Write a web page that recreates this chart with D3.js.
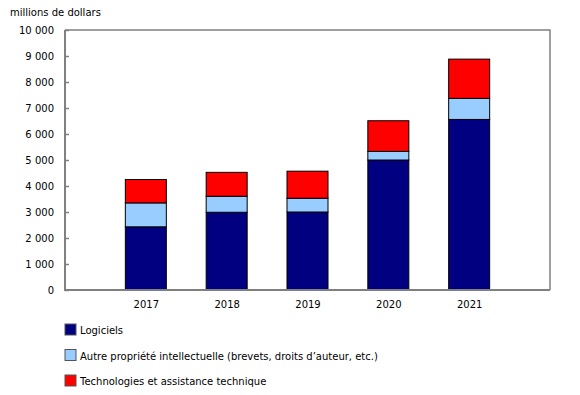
<!DOCTYPE html>
<html>
<head>
<meta charset="utf-8">
<script src="https://cdn.jsdelivr.net/npm/d3@7"></script>
<style>
  body { margin: 0; background: #fff; }
  text { font-family: Verdana, "DejaVu Sans", sans-serif; fill: #000; }
</style>
</head>
<body>
<div id="chart"></div>
<script>
// data (millions de dollars)
var years = ["2017", "2018", "2019", "2020", "2021"]
var logiciels = [2430, 2990, 3000, 5000, 6560]
var autrePI = [920, 615, 530, 330, 810]
var technos = [900, 920, 1040, 1180, 1510]
var seriesNames = ["Logiciels", "Autre propriété intellectuelle (brevets, droits d\u2019auteur, etc.)", "Technologies et assistance technique"]
var colors = ["#000080", "#99ccff", "#ff0000"]
var yTicks = [0, 1000, 2000, 3000, 4000, 5000, 6000, 7000, 8000, 9000, 10000]

var width = 580, height = 395
var mLeft = 65, mRight = 550, mTop = 30, mBottom = 290

var svg = d3.select("#chart").append("svg")
  .attr("width", width)
  .attr("height", height)

// build rows for the stack
var rows = years.map(function(y, i) {
  return { year: y, a: logiciels[i], b: autrePI[i], c: technos[i] }
})
var stack = d3.stack().keys(["a", "b", "c"])
var layers = stack(rows)

var x = d3.scalePoint().domain(years).range([mLeft, mRight]).padding(1)
var y = d3.scaleLinear().domain([0, 10000]).range([mBottom, mTop])
var barW = 41

// y label
svg.append("text")
  .attr("x", 10).attr("y", 16)
  .style("font-size", "10px")
  .text("millions de dollars")

// frame (top and right)
svg.append("path")
  .attr("d", "M" + mLeft + "," + mTop + "H" + mRight + "V" + mBottom)
  .attr("fill", "none")
  .attr("stroke", "#808080")
  .attr("stroke-width", 1.5)

// bars
svg.selectAll("g.layer")
  .data(layers)
  .enter()
  .append("g")
  .attr("class", "layer")
  .attr("fill", function(d, i) { return colors[i] })
  .selectAll("rect")
  .data(function(d) { return d })
  .enter()
  .append("rect")
  .attr("x", function(d) { return x(d.data.year) - barW / 2 })
  .attr("width", barW)
  .attr("y", function(d) { return y(d[1]) })
  .attr("height", function(d) { return y(d[0]) - y(d[1]) })
  .attr("stroke", "#000")
  .attr("stroke-width", 1)

// y axis
var yAxis = svg.append("g")
  .attr("transform", "translate(" + mLeft + ",0)")
  .call(d3.axisLeft(y).tickValues(yTicks).tickSize(-4).tickPadding(10)
    .tickFormat(function(d) { return d3.format(",")(d).replace(/,/g, " ") }))
yAxis.select(".domain").remove()
yAxis.selectAll(".tick line").attr("stroke", "#808080").attr("stroke-width", 1.5)
yAxis.selectAll(".tick text").style("font-size", "10px").attr("x", -11).attr("fill", "#000")
yAxis.append("line")
  .attr("x1", 0).attr("x2", 0).attr("y1", mTop).attr("y2", mBottom + 1)
  .attr("stroke", "#808080").attr("stroke-width", 2)

// x axis
var xAxis = svg.append("g")
  .attr("transform", "translate(0," + mBottom + ")")
  .call(d3.axisBottom(x).tickSize(0).tickPadding(11))
xAxis.select(".domain").remove()
xAxis.selectAll(".tick text").style("font-size", "10px").attr("fill", "#000")
xAxis.append("line")
  .attr("x1", mLeft - 1).attr("x2", mRight).attr("y1", 0).attr("y2", 0)
  .attr("stroke", "#808080").attr("stroke-width", 2)

// legend
var legend = svg.selectAll("g.legend")
  .data(seriesNames)
  .enter()
  .append("g")
  .attr("class", "legend")
  .attr("transform", function(d, i) { return "translate(65," + (324 + i * 25.5) + ")" })
legend.append("rect")
  .attr("width", 11).attr("height", 11)
  .attr("fill", function(d, i) { return colors[i] })
  .attr("stroke", "#555").attr("stroke-width", 1)
legend.append("text")
  .attr("x", 15).attr("y", 10)
  .style("font-size", "10px")
  .text(function(d) { return d })
</script>
</body>
</html>
